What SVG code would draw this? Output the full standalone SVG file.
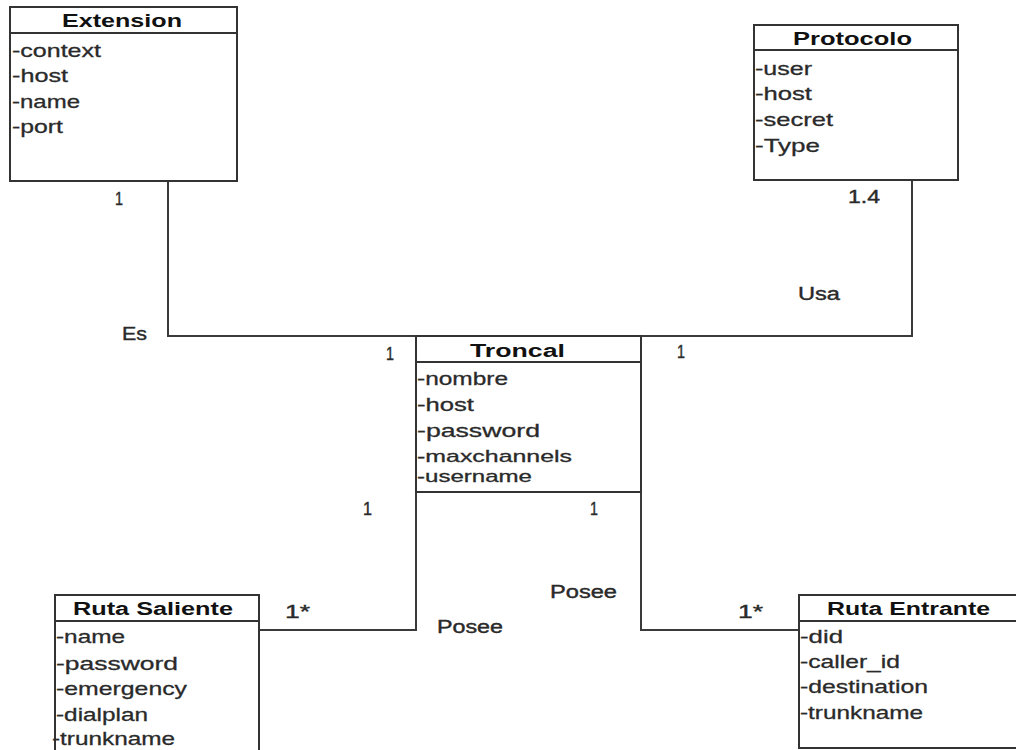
<svg xmlns="http://www.w3.org/2000/svg" width="1016" height="750" viewBox="0 0 1016 750">
  <style>
    .box { fill: #ffffff; stroke: #333333; stroke-width: 2; }
    .sep { stroke: #333333; stroke-width: 2; }
    .conn { fill: none; stroke: #3a3a3a; stroke-width: 2; }
    .title { font-family: "Liberation Sans", Arial, sans-serif; font-size: 18px; font-weight: bold; fill: #111111; }
    .attr { font-family: "Liberation Sans", Arial, sans-serif; font-size: 19px; fill: #2a2a2a; stroke: #2a2a2a; stroke-width: 0.3; }
    .tight { font-size: 17px; }
    .lbl { font-family: "Liberation Sans", Arial, sans-serif; font-size: 18px; fill: #2a2a2a; stroke: #2a2a2a; stroke-width: 0.4; }
  </style>
  <rect width="1016" height="750" fill="#ffffff"/>

  <!-- associations -->
  <g id="connectors">
    <polyline class="conn" points="168,181 168,336 416,336"/>
    <polyline class="conn" points="912,180 912,336 641,336"/>
    <polyline class="conn" points="416,492 416,630 259,630"/>
    <polyline class="conn" points="641,492 641,630 799,630"/>
    <text class="lbl" x="115" y="205" textLength="8" lengthAdjust="spacingAndGlyphs">1</text>
    <text class="lbl" x="122" y="340" textLength="25" lengthAdjust="spacingAndGlyphs">Es</text>
    <text class="lbl" x="848" y="203" textLength="32" lengthAdjust="spacingAndGlyphs">1.4</text>
    <text class="lbl" x="798" y="300" textLength="42" lengthAdjust="spacingAndGlyphs">Usa</text>
    <text class="lbl" x="386" y="360" textLength="8" lengthAdjust="spacingAndGlyphs">1</text>
    <text class="lbl" x="677" y="358" textLength="8" lengthAdjust="spacingAndGlyphs">1</text>
    <text class="lbl" x="363" y="515" textLength="9" lengthAdjust="spacingAndGlyphs">1</text>
    <text class="lbl" x="590" y="515" textLength="8" lengthAdjust="spacingAndGlyphs">1</text>
    <text class="lbl" x="550" y="598" textLength="67" lengthAdjust="spacingAndGlyphs">Posee</text>
    <text class="lbl" x="437" y="633" textLength="66" lengthAdjust="spacingAndGlyphs">Posee</text>
    <text class="lbl" x="285" y="618" textLength="25" lengthAdjust="spacingAndGlyphs">1*</text>
    <text class="lbl" x="738" y="618" textLength="25" lengthAdjust="spacingAndGlyphs">1*</text>
  </g>

  <g id="extension">
    <rect class="box" x="10" y="7" width="227" height="174"/>
    <line class="sep" x1="10" y1="33" x2="237" y2="33"/>
    <text class="title" x="62" y="27" textLength="120" lengthAdjust="spacingAndGlyphs">Extension</text>
    <text class="attr" x="12" y="57" textLength="89" lengthAdjust="spacingAndGlyphs">-context</text>
    <text class="attr" x="12" y="82" textLength="56" lengthAdjust="spacingAndGlyphs">-host</text>
    <text class="attr" x="12" y="108" textLength="68" lengthAdjust="spacingAndGlyphs">-name</text>
    <text class="attr" x="12" y="133" textLength="51" lengthAdjust="spacingAndGlyphs">-port</text>
  </g>

  <g id="protocolo">
    <rect class="box" x="754" y="25" width="204" height="155"/>
    <line class="sep" x1="754" y1="50" x2="958" y2="50"/>
    <text class="title" x="793" y="45" textLength="119" lengthAdjust="spacingAndGlyphs">Protocolo</text>
    <text class="attr" x="755" y="75" textLength="57" lengthAdjust="spacingAndGlyphs">-user</text>
    <text class="attr" x="755" y="100" textLength="57" lengthAdjust="spacingAndGlyphs">-host</text>
    <text class="attr" x="755" y="126" textLength="78" lengthAdjust="spacingAndGlyphs">-secret</text>
    <text class="attr" x="755" y="152" textLength="65" lengthAdjust="spacingAndGlyphs">-Type</text>
  </g>

  <g id="troncal">
    <rect class="box" x="416" y="336" width="225" height="156"/>
    <line class="sep" x1="416" y1="362" x2="641" y2="362"/>
    <text class="title" x="470" y="357" textLength="95" lengthAdjust="spacingAndGlyphs">Troncal</text>
    <text class="attr" x="417" y="385" textLength="91" lengthAdjust="spacingAndGlyphs">-nombre</text>
    <text class="attr" x="417" y="411" textLength="57" lengthAdjust="spacingAndGlyphs">-host</text>
    <text class="attr" x="417" y="437" textLength="123" lengthAdjust="spacingAndGlyphs">-password</text>
    <text class="attr tight" x="417" y="462" textLength="155" lengthAdjust="spacingAndGlyphs">-maxchannels</text>
    <text class="attr tight" x="417" y="482" textLength="115" lengthAdjust="spacingAndGlyphs">-username</text>
  </g>

  <g id="ruta-saliente">
    <rect class="box" x="55" y="595" width="204" height="170"/>
    <line class="sep" x1="55" y1="621" x2="259" y2="621"/>
    <text class="title" x="73" y="615" textLength="160" lengthAdjust="spacingAndGlyphs">Ruta Saliente</text>
    <text class="attr" x="56" y="643" textLength="69" lengthAdjust="spacingAndGlyphs">-name</text>
    <text class="attr" x="56" y="670" textLength="122" lengthAdjust="spacingAndGlyphs">-password</text>
    <text class="attr" x="56" y="695" textLength="131" lengthAdjust="spacingAndGlyphs">-emergency</text>
    <text class="attr" x="56" y="721" textLength="92" lengthAdjust="spacingAndGlyphs">-dialplan</text>
    <text class="attr" x="52" y="745" textLength="123" lengthAdjust="spacingAndGlyphs">-trunkname</text>
  </g>

  <g id="ruta-entrante">
    <rect class="box" x="799" y="595" width="230" height="153"/>
    <line class="sep" x1="799" y1="621" x2="1016" y2="621"/>
    <text class="title" x="827" y="615" textLength="163" lengthAdjust="spacingAndGlyphs">Ruta Entrante</text>
    <text class="attr" x="800" y="643" textLength="43" lengthAdjust="spacingAndGlyphs">-did</text>
    <text class="attr" x="800" y="668" textLength="100" lengthAdjust="spacingAndGlyphs">-caller_id</text>
    <text class="attr" x="800" y="693" textLength="128" lengthAdjust="spacingAndGlyphs">-destination</text>
    <text class="attr" x="800" y="719" textLength="123" lengthAdjust="spacingAndGlyphs">-trunkname</text>
  </g>
</svg>
